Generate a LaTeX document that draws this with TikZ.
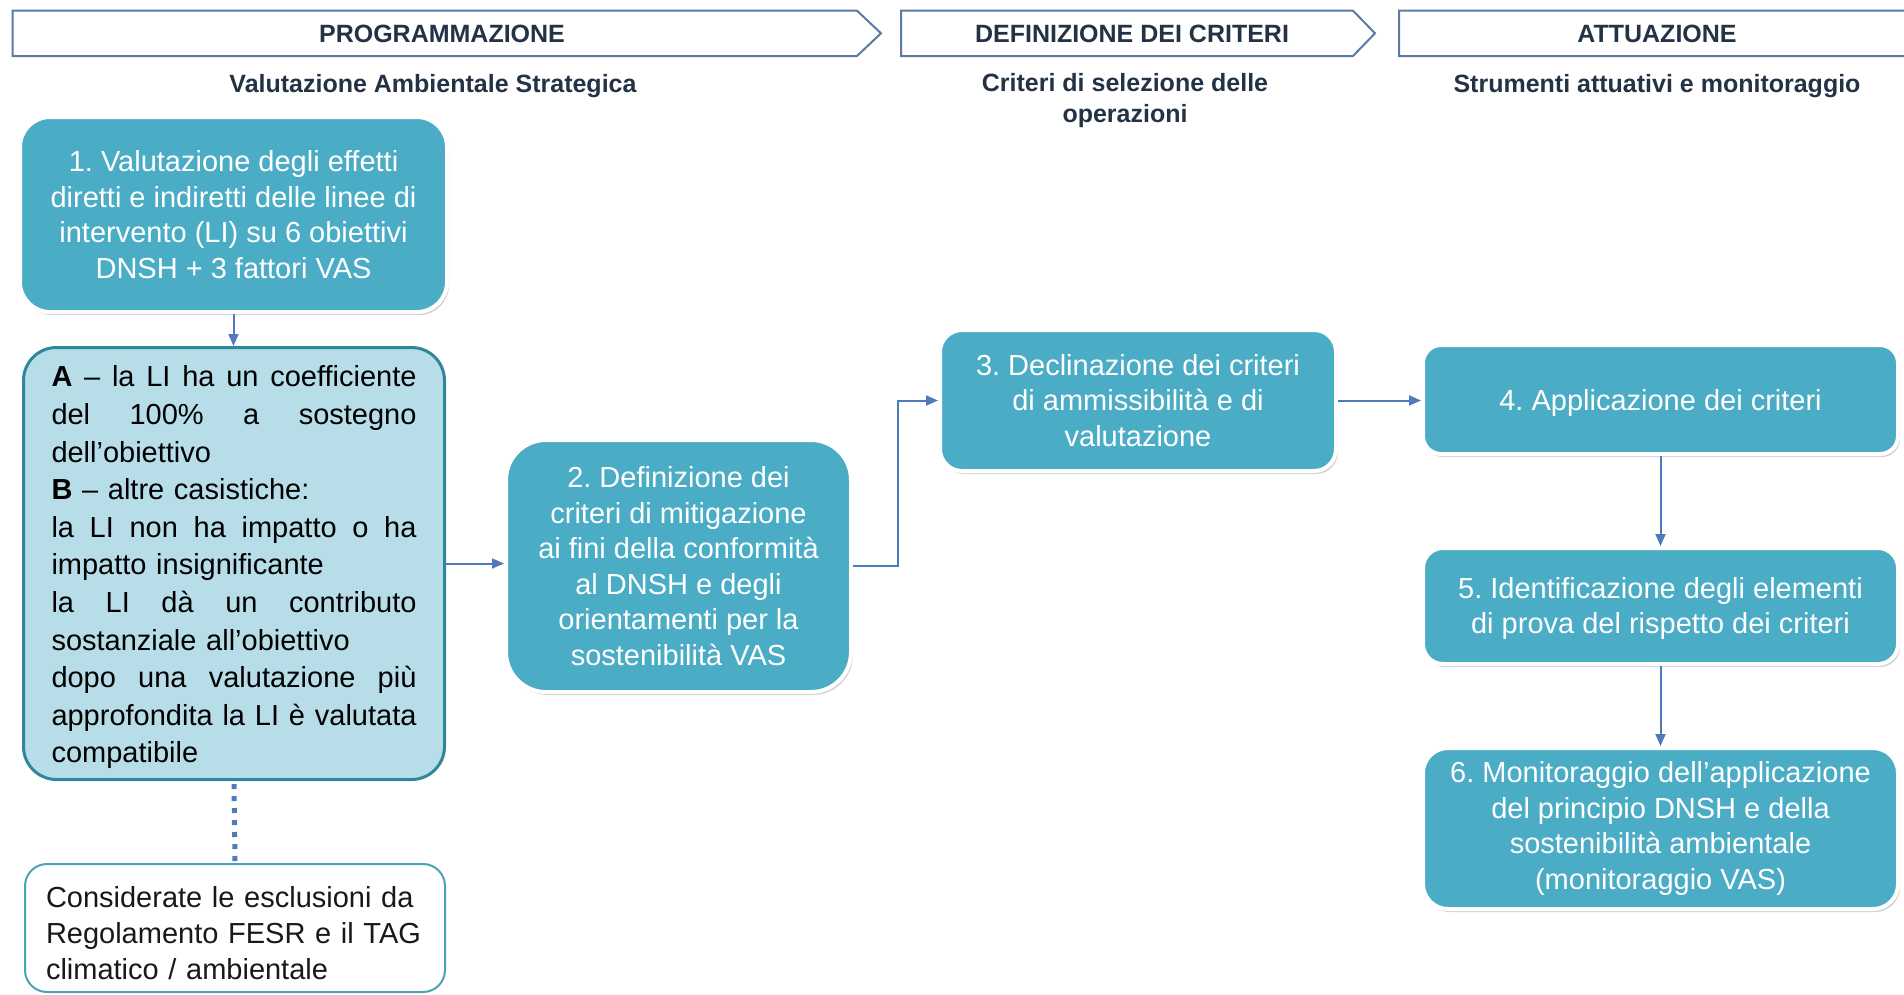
\documentclass[tikz,border=0pt]{standalone}
\usepackage{fontspec}
\setmainfont{Liberation Sans}
\usetikzlibrary{arrows.meta,shadows,calc}
\definecolor{tealc}{HTML}{4BACC6}
\definecolor{afill}{HTML}{B7DEE8}
\definecolor{aborder}{HTML}{31859C}
\definecolor{cborder}{HTML}{4BA3BA}
\definecolor{arrowc}{HTML}{4F7BBD}
\definecolor{hdrline}{HTML}{5A7BA3}
\definecolor{hdrcol}{HTML}{243246}
\frenchspacing
\newcommand{\hdrfnt}{\fontsize{25}{31}\selectfont\bfseries}
\newcommand{\bxfnt}{\fontsize{29}{35.5}\selectfont}
\newcommand{\afnt}{\fontsize{29}{37.6}\selectfont}
\newcommand{\cfnt}{\fontsize{29}{36.2}\selectfont}
\newcommand{\jl}[1]{{\spaceskip=0.278em plus 10em\makebox[365pt][s]{#1}}}
\begin{document}
\begin{tikzpicture}[x=1pt,y=-1pt,
  hdr/.style={draw=hdrline, line width=2pt, fill=white, line join=miter},
  hdrtext/.style={font=\hdrfnt, text=hdrcol, inner sep=0pt, align=center},
  tealbox/.style={fill=tealc, draw=white, line width=4pt, text=white, align=center,
    font=\bxfnt, inner sep=0pt,
    drop shadow={shadow xshift=2pt, shadow yshift=-3pt, opacity=0.3, fill=black!60}},
  boxA/.style={draw=aborder, fill=afill, line width=3pt, rounded corners=33pt,
    minimum width=421pt, minimum height=432pt, text width=365pt, align=left,
    font=\afnt, inner sep=0pt, text=black},
  boxC/.style={draw=cborder, fill=white, line width=2pt, rounded corners=22pt,
    minimum width=420pt, minimum height=128pt, text width=378pt, align=left,
    font=\cfnt, inner sep=0pt, text=black!90},
  conn/.style={draw=arrowc, line width=2pt, -{Triangle[length=12pt,width=10pt]}},
  dotc/.style={draw=arrowc, line width=5pt, dash pattern=on 5pt off 7pt},
]
\useasboundingbox (0,0) rectangle (1904,994);
\clip (0,0) rectangle (1904,994);

% header chevrons
\draw[hdr] (12.6,10.7) -- (857,10.7) -- (881,33.3) -- (857,56) -- (12.6,56) -- cycle;
\draw[hdr] (901,10.7) -- (1353,10.7) -- (1375,33.3) -- (1353,56) -- (901,56) -- cycle;
\draw[hdr] (1399,10.7) -- (1915,10.7) -- (1937,33.3) -- (1915,56) -- (1399,56) -- cycle;
\node[hdrtext] (h1) at (442,34) {PROGRAMMAZIONE};
\node[hdrtext] (h2) at (1132,34) {DEFINIZIONE DEI CRITERI};
\node[hdrtext] (h3) at (1657,34) {ATTUAZIONE};

% subtitles
\node[hdrtext] (s1) at (433,86) {Valutazione Ambientale Strategica};
\node[hdrtext] (s2) at (1125,101) {Criteri di selezione delle\\operazioni};
\node[hdrtext] (s3) at (1657,86) {Strumenti attuativi e monitoraggio};

% boxes
\node[tealbox, rounded corners=30pt, minimum width=427pt, minimum height=195pt] (b1) at (233.5,214.5)
  {1. Valutazione degli effetti\\diretti e indiretti delle linee di\\intervento (LI) su 6 obiettivi\\DNSH + 3 fattori VAS};

\node[boxA] (ba) at (234,563.5)
  {\rule{0pt}{29pt}\jl{\textbf{A} – la LI ha un coefficiente}\\
   \jl{del 100\% a sostegno}\\
   dell’obiettivo\\
   \textbf{B} – altre casistiche:\\
   \jl{la LI non ha impatto o ha}\\
   impatto insignificante\\
   \jl{la LI dà un contributo}\\
   sostanziale all’obiettivo\\
   \jl{dopo una valutazione più}\\
   \jl{approfondita la LI è valutata}\\
   compatibile};

\node[boxC] (bc) at (235,928)
  {\rule{0pt}{31pt}Considerate le esclusioni da\\Regolamento FESR e il TAG\\climatico / ambientale};

\node[tealbox, rounded corners=40pt, minimum width=345pt, minimum height=252pt] (b2) at (678.5,566)
  {2. Definizione dei\\criteri di mitigazione\\ai fini della conformità\\al DNSH e degli\\orientamenti per la\\sostenibilità VAS};

\node[tealbox, rounded corners=22pt, minimum width=396pt, minimum height=141pt] (b3) at (1138,400.5)
  {3. Declinazione dei criteri\\di ammissibilità e di\\valutazione};

\node[tealbox, rounded corners=18pt, minimum width=475pt, minimum height=109pt, text depth=0pt] (b4) at (1660.5,399.5)
  {4. Applicazione dei criteri};

\node[tealbox, rounded corners=20pt, minimum width=475pt, minimum height=116pt] (b5) at (1660.5,606)
  {\rule{0pt}{26pt}5. Identificazione degli elementi\\di prova del rispetto dei criteri};

\node[tealbox, rounded corners=25pt, minimum width=475pt, minimum height=161pt] (b6) at (1660.5,828.5)
  {6. Monitoraggio dell’applicazione\\del principio DNSH e della\\sostenibilità ambientale\\(monitoraggio VAS)};

% connectors
\draw[conn] (b1.south) -- (b1.south |- ba.north);
\draw[dotc] (ba.south) ++(0,3) -- (bc.north);
\draw[conn] (ba.east) -- (ba.east -| b2.west);
\draw[conn] (b2.east) -- ++(45,0) |- (b3.west);
\draw[conn] (b3.east) -- (b3.east -| b4.west);
\draw[conn] (b4.south) -- (b5.north);
\draw[conn] (b5.south) -- (b6.north);
\end{tikzpicture}
\end{document}
